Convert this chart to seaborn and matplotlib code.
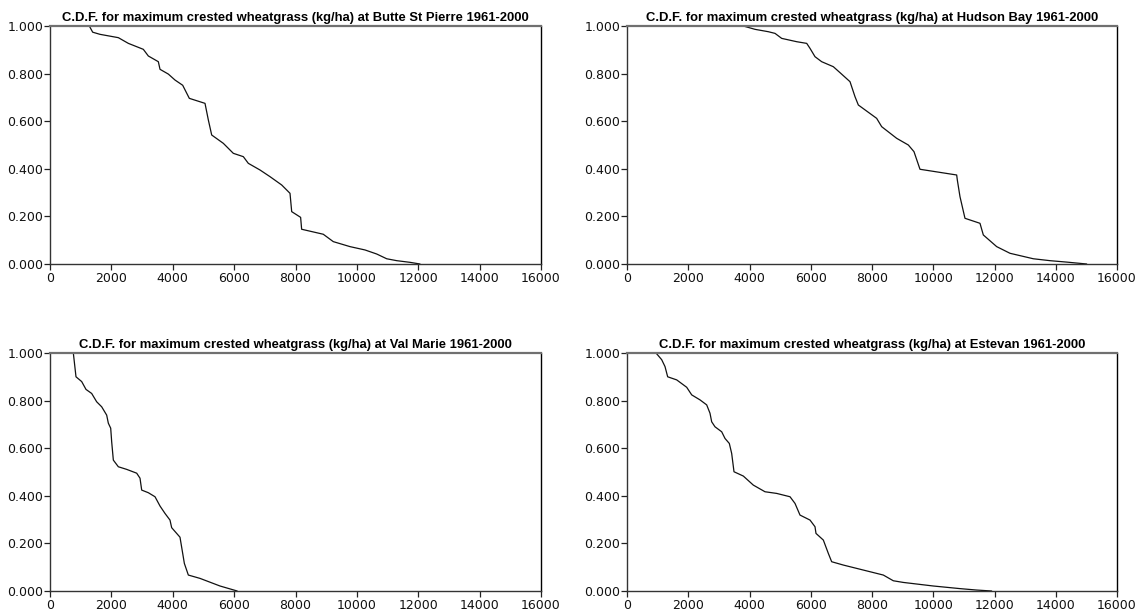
import matplotlib
matplotlib.use("Agg")
import matplotlib.pyplot as plt
import seaborn as sns
import pandas as pd

sns.set_theme(style="white")
plt.rcParams["font.family"] = ["DejaVu Sans"]

# Exceedance probability curves for maximum crested wheatgrass yield (kg/ha), 1961-2000
butte_x = [1281, 1391, 1629, 2227, 2553, 3041, 3204, 3530, 3585, 3856, 4073, 4324,
           4540, 5051, 5160, 5269, 5648, 5974, 6300, 6462, 6843, 7169, 7550, 7821,
           7876, 8167, 8200, 8905, 9231, 9776, 10265, 10646, 10972, 11298, 11731, 12057]
butte_y = [1.000, 0.974, 0.965, 0.951, 0.927, 0.902, 0.874, 0.850, 0.818, 0.798, 0.773, 0.751,
           0.696, 0.675, 0.605, 0.542, 0.507, 0.465, 0.451, 0.423, 0.395, 0.367, 0.332, 0.297,
           0.220, 0.196, 0.146, 0.125, 0.094, 0.073, 0.059, 0.042, 0.022, 0.014, 0.007, 0.000]

hudson_x = [3798, 4180, 4615, 4833, 5051, 5541, 5868, 5976, 6139, 6357, 6737, 6955,
            7282, 7445, 7554, 8152, 8316, 8806, 9186, 9371, 9567, 10765, 10786, 10873,
            11036, 11526, 11635, 12071, 12506, 13268, 13812, 14357, 15010]
hudson_y = [1.000, 0.986, 0.976, 0.969, 0.948, 0.934, 0.927, 0.906, 0.871, 0.850, 0.829, 0.804,
            0.766, 0.703, 0.668, 0.612, 0.577, 0.528, 0.500, 0.472, 0.398, 0.374, 0.353, 0.283,
            0.192, 0.171, 0.122, 0.073, 0.045, 0.022, 0.014, 0.008, 0.000]

valmarie_x = [760, 847, 1032, 1173, 1358, 1521, 1684, 1847, 1901, 1978, 2010, 2064,
              2227, 2499, 2825, 2933, 2988, 3204, 3422, 3585, 3747, 3910, 3965, 4236,
              4324, 4378, 4508, 4888, 5540, 6100]
valmarie_y = [1.000, 0.900, 0.880, 0.847, 0.830, 0.795, 0.774, 0.739, 0.705, 0.684, 0.627, 0.550,
              0.522, 0.511, 0.495, 0.474, 0.424, 0.413, 0.396, 0.357, 0.326, 0.298, 0.266, 0.226,
              0.158, 0.116, 0.067, 0.053, 0.021, 0.000]

estevan_x = [947, 1132, 1241, 1328, 1623, 1949, 2113, 2384, 2602, 2710, 2765, 2873,
             3092, 3200, 3341, 3418, 3494, 3798, 4124, 4506, 4888, 5323, 5486, 5649,
             5976, 6139, 6171, 6411, 6574, 6683, 7064, 7935, 8370, 8696, 9023, 10002,
             10873, 11418, 11907]
estevan_y = [1.000, 0.972, 0.943, 0.900, 0.887, 0.856, 0.824, 0.803, 0.782, 0.747, 0.711, 0.690,
             0.669, 0.641, 0.620, 0.578, 0.501, 0.483, 0.445, 0.417, 0.410, 0.396, 0.368, 0.319,
             0.298, 0.270, 0.242, 0.214, 0.158, 0.123, 0.109, 0.081, 0.067, 0.043, 0.036, 0.021,
             0.010, 0.004, 0.000]

stations = ["Butte St Pierre", "Hudson Bay", "Val Marie", "Estevan"]
series = [(butte_x, butte_y), (hudson_x, hudson_y),
          (valmarie_x, valmarie_y), (estevan_x, estevan_y)]

x_ticks = [0, 2000, 4000, 6000, 8000, 10000, 12000, 14000, 16000]
y_ticks = [0.0, 0.2, 0.4, 0.6, 0.8, 1.0]

fig = plt.figure(figsize=(11.35, 6.14), dpi=100)
fig.patch.set_facecolor("white")

W, H = 1135, 614
boxes = [(50, 26, 491, 238), (627, 26, 490, 238),
         (50, 353, 491, 238), (627, 353, 490, 238)]

for (name, (xs, ys)), (l, t, w, h) in zip(zip(stations, series), boxes):
    ax = fig.add_axes([l / W, 1 - (t + h) / H, w / W, h / H])
    df = pd.DataFrame({"yield": xs, "prob": ys})
    sns.lineplot(data=df, x="yield", y="prob", ax=ax, sort=False, estimator=None,
                 color="#111111", linewidth=0.9)
    ax.set_xlim(0, 16000)
    ax.set_ylim(0, 1.0)
    ax.set_xticks(x_ticks)
    ax.set_yticks(y_ticks)
    ax.set_xticklabels([str(v) for v in x_ticks])
    ax.set_yticklabels([f"{v:.3f}" for v in y_ticks])
    ax.set_xlabel("")
    ax.set_ylabel("")
    ax.grid(False)
    ax.set_facecolor("white")
    ax.tick_params(axis="both", direction="out", length=4, width=0.9,
                   color="#222222", labelsize=9, labelcolor="#111111",
                   bottom=True, left=True)
    ax.tick_params(axis="y", pad=1.0)
    ax.tick_params(axis="x", pad=1.8)
    for side in ["left", "bottom"]:
        ax.spines[side].set_color("#333333")
        ax.spines[side].set_linewidth(1.0)
    ax.spines["top"].set_color("#707070")
    ax.spines["top"].set_linewidth(1.6)
    ax.spines["right"].set_color("#000000")
    ax.spines["right"].set_linewidth(1.0)
    ax.set_title(f"C.D.F. for maximum crested wheatgrass (kg/ha) at {name} 1961-2000",
                 fontsize=9.4, fontweight="bold",
                 family=["Liberation Sans", "DejaVu Sans"],
                 color="#000000", pad=3.4)

fig.savefig("out.png", dpi=100, facecolor="white")
